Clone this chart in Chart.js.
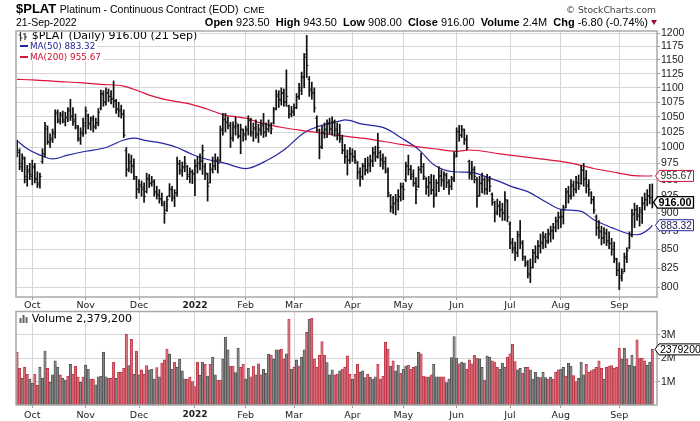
<!DOCTYPE html>
<html>
<head>
<meta charset="utf-8">
<script src="https://cdn.jsdelivr.net/npm/chart.js@4.4.1/dist/chart.umd.min.js"></script>
<style>
  html, body { margin:0; padding:0; background:#fff; }
  body { width:700px; height:421px; overflow:hidden; position:relative; font-family:"Liberation Sans", Arial, sans-serif; color:#000; }
  .t { position:absolute; white-space:nowrap; }
  #pwrap { position:absolute; left:0; top:0; width:700px; height:310px; }
  #vwrap { position:absolute; left:0; top:300px; width:700px; height:121px; }
  .lgw { position:absolute; overflow:hidden; }
  .lgl { position:absolute; left:0; background:#fff; font-family:"DejaVu Sans", sans-serif; white-space:nowrap; }
</style>
</head>
<body>
<div id="pwrap"><canvas id="pc"></canvas></div>
<div id="vwrap"><canvas id="vc"></canvas></div>

<div class="t" id="title" style="left:16px;top:2.3px;font-size:13px;line-height:13px;"></div>
<div class="t" id="dateRow" style="left:16px;top:17.1px;font-size:10.5px;line-height:10.5px;"></div>
<div class="t" id="stats" style="right:43px;top:16.7px;font-size:11px;line-height:11px;"></div>
<div class="t" id="copy" style="right:44px;top:4.5px;font-family:'DejaVu Sans',sans-serif;font-size:9.2px;line-height:9.2px;color:#444"></div>

<div class="lgw" style="left:17px;top:31.8px;width:190px;height:31px;">
  <div class="lgl" id="lg1" style="top:-2.1px;padding-left:14.7px;padding-right:2px;font-size:11px;line-height:11px;">
    <svg style="position:absolute;left:1px;top:2.3px" width="10" height="9" viewBox="0 0 10 9">
      <path d="M2.5 0 V9 M0.5 3 H2.5 M2.5 6 H4.5 M7 1 V8 M5 2 H7 M7 5 H9" stroke="#333" stroke-width="1.2" fill="none"/>
    </svg>
    <span id="lg1t"></span>
  </div>
  <div class="lgl" id="lg2" style="top:10.05px;padding-left:13px;padding-right:2px;font-size:8.8px;line-height:8.8px;color:#1c1c8c;">
    <span style="position:absolute;left:3px;top:3px;width:8px;height:2px;background:#2626a0"></span><span id="lg2t"></span>
  </div>
  <div class="lgl" id="lg3" style="top:20.75px;padding-left:13px;padding-right:2px;font-size:8.8px;line-height:8.8px;color:#cc1133;">
    <span style="position:absolute;left:3px;top:3px;width:8px;height:2px;background:#dc143c"></span><span id="lg3t"></span>
  </div>
</div>

<div class="lgw" style="left:17px;top:312.4px;width:130px;height:11px;">
  <div class="lgl" style="top:0.3px;padding-left:14.7px;padding-right:2px;font-size:11px;line-height:11px;">
    <svg style="position:absolute;left:2px;top:1px" width="10" height="9" viewBox="0 0 10 9">
      <rect x="0.5" y="4" width="2" height="5" fill="#666"/><rect x="3.5" y="1" width="2" height="8" fill="#666"/><rect x="6.5" y="3" width="2" height="6" fill="#666"/>
    </svg>
    <span id="vlgt"></span>
  </div>
</div>

<script>
// ---------------- DATA ----------------
const symbol = "$PLAT";
const seriesName = "Platinum - Continuous Contract (EOD)";
const exchange = "CME";
const lastDate = "21-Sep-2022";
const lastDateShort = "21 Sep";

const monthIdx = [6,27,48,70,90,109,132,152,173,194,214,237];
const monthLabels = ["Oct","Nov","Dec","2022","Feb","Mar","Apr","May","Jun","Jul","Aug","Sep"];
const priceTicks = [800,825,850,875,900,925,950,975,1000,1025,1050,1075,1100,1125,1150,1175,1200];
const volTicks = [1,2,3]; // millions

const opens = [
 1005,992,970,982,950,965,955,968,952,942, 978,990,1030,1008,1012,1022,1055,1042,1055,1042,
 1048,1062,1052,1045,1032,1012,1022,1035,1052,1038, 1048,1033,1040,1065,1088,1075,1092,1085,1082,1076,
 1064,1062,1055,995,966,978,972,952,936,942, 938,932,950,944,946,932,926,922,912,905,
 926,936,922,930,974,962,968,970,955,962, 958,972,975,978,970,958,945,966,972,980,
 980,1030,1046,1042,1036,1015,1032,1035,1018,1028, 1020,1028,1044,1022,1032,1020,1028,1038,1024,1030,
 1036,1040,1064,1088,1078,1092,1076,1068,1054,1058, 1066,1084,1095,1118,1160,1115,1098,1092,1048,1028,
 1002,1024,1028,1040,1030,1042,1030,1022,1014,996, 986,980,990,986,976,962,954,972,964,972,
 978,992,986,992,982,978,962,926,908,914, 918,924,938,950,972,966,958,944,940,966,
 970,952,938,946,934,928,945,956,948,956, 946,940,952,988,1026,1020,1028,1014,978,958,
 966,950,926,944,950,936,948,928,916,902, 912,906,900,918,885,860,852,846,870,858,
 838,830,816,826,846,840,854,858,866,862, 870,876,880,888,894,896,908,932,926,940,
 936,946,944,964,952,942,930,920,895,880, 874,866,872,862,858,850,836,822,812,820,
 838,852,870,898,906,896,902,914,920,926, 923.5];
const highs = [
 1012,998,990,985,972,975,980,975,962,960, 998,1041,1035,1022,1030,1062,1062,1058,1060,1058,
 1066,1080,1066,1055,1036,1032,1048,1067,1055,1050, 1052,1048,1064,1096,1095,1100,1098,1095,1112,1080,
 1075,1070,1062,1000,990,988,982,955,950,948, 945,960,958,955,950,940,935,930,918,925,
 944,940,935,985,980,977,986,972,968,965, 981,985,990,1004,975,960,975,985,990,985,
 1035,1056,1056,1050,1041,1042,1050,1038,1038,1030, 1035,1052,1048,1040,1045,1038,1045,1056,1040,1045,
 1040,1066,1096,1095,1100,1098,1132,1070,1068,1072, 1090,1108,1128,1162,1196,1120,1110,1100,1052,1030,
 1035,1040,1045,1048,1050,1045,1040,1038,1020,1005, 996,1000,998,995,978,968,975,983,985,988,
 1000,1002,1023,995,990,985,968,928,925,928, 935,945,945,977,988,972,965,953,970,991,
 975,953,955,958,957,950,970,965,962,960, 950,955,993,1032,1036,1036,1030,1020,980,978,
 970,953,955,960,953,958,955,930,918,921, 918,915,932,920,888,865,860,875,890,862,
 841,835,837,850,855,862,871,874,872,878, 882,886,895,902,905,912,937,940,950,948,
 955,957,972,975,964,950,932,925,898,890, 882,880,878,874,865,860,838,832,824,845,
 852,874,906,915,912,909,924,930,935,943, 943.5];
const lows = [
 985,965,962,945,940,950,942,945,938,937, 975,985,1005,1000,1008,1015,1040,1038,1040,1035,
 1042,1044,1036,1030,1010,1005,1018,1022,1030,1028, 1025,1030,1035,1062,1068,1070,1076,1072,1066,1056,
 1050,1048,1016,955,962,960,950,922,930,925, 916,930,938,940,925,921,915,911,886,903,
 924,918,910,925,958,955,962,950,945,944, 926,960,965,958,950,918,945,960,965,960,
 978,1020,1025,1030,1000,1010,1020,1015,990,1010, 1012,1020,1018,1010,1015,1008,1020,1016,1018,1025,
 1022,1038,1062,1066,1070,1068,1068,1048,1050,1052, 1064,1080,1088,1100,1118,1085,1080,1058,1025,982,
 998,1015,1016,1022,1020,1018,1012,1008,990,975, 957,975,978,975,951,940,950,957,960,962,
 970,978,983,970,966,960,924,902,900,898, 905,918,920,947,957,950,940,914,938,960,
 950,928,925,928,909,925,932,940,935,938, 928,935,947,985,1010,1016,1005,996,951,950,
 945,909,925,930,928,928,932,912,888,898, 895,890,890,888,851,845,835,840,851,835,
 827,812,806,825,832,837,845,851,852,858, 860,864,874,878,880,885,908,915,921,925,
 930,935,943,940,930,925,914,900,869,865, 856,858,855,851,842,832,815,797,808,820,
 832,851,867,880,890,882,886,905,911,914, 908];
const closes = [
 995,975,985,955,962,958,970,950,945,955, 990,1035,1010,1015,1025,1058,1045,1052,1045,1050,
 1060,1050,1042,1035,1015,1025,1040,1060,1040,1045, 1035,1040,1058,1090,1075,1090,1085,1080,1078,1062,
 1060,1055,1020,965,975,970,955,935,940,935, 925,952,945,948,930,928,920,915,900,920,
 935,925,930,975,965,970,975,958,962,960, 970,975,980,995,960,940,965,970,980,975,
 1028,1045,1040,1035,1015,1035,1040,1020,1030,1022, 1030,1045,1025,1030,1022,1030,1035,1025,1030,1035,
 1030,1062,1085,1080,1090,1075,1085,1055,1060,1065, 1085,1100,1120,1155,1140,1095,1090,1065,1035,1000,
 1025,1030,1038,1030,1040,1028,1020,1015,995,985, 980,990,985,980,960,955,970,965,975,980,
 990,985,1000,980,975,965,930,910,915,920, 925,940,935,970,965,955,945,935,965,970,
 955,940,945,935,925,945,955,950,958,945, 940,950,985,1025,1020,1030,1012,1000,960,965,
 955,925,945,950,935,950,940,920,900,910, 905,902,920,895,858,850,845,868,860,840,
 832,818,825,845,840,855,860,868,860,872, 875,880,890,895,895,905,930,925,942,935,
 945,940,965,950,940,935,920,905,880,875, 865,872,860,858,850,838,822,815,818,840,
 848,870,900,905,898,905,915,920,925,922.8, 916];

// volume in millions
const volumes = [
 2.26,1.57,1.14,1.61,1.31,1.11,0.93,1.31,0.84,1.61, 1.14,2.31,1.57,0.97,1.29,1.89,1.61,1.29,1.14,1.07,
 1.24,1.74,1.31,1.67,1.19,0.97,1.19,1.71,1.53,1.11, 1.11,0.86,1.21,1.24,2.26,1.21,1.14,1.14,1.83,1.14,
 1.40,1.40,1.57,3.03,1.69,2.81,1.31,2.31,1.29,1.50, 1.31,1.69,1.50,1.53,1.11,1.60,1.21,1.79,1.93,2.39,
 2.19,1.53,1.84,1.61,1.96,1.46,1.11,1.10,1.19,1.00, 0.79,1.84,1.27,1.84,1.74,1.24,1.74,2.04,1.29,1.07,
 1.07,1.97,2.90,2.36,1.67,1.67,1.39,2.43,1.61,1.74, 1.11,1.57,1.21,1.67,1.29,1.76,1.29,1.53,1.36,2.17,
 2.14,1.97,2.36,2.36,2.39,1.97,2.19,3.67,1.53,1.61, 1.93,1.67,2.04,2.36,3.11,3.67,3.71,1.96,1.61,2.13,
 2.71,2.13,1.81,1.29,1.50,1.29,1.31,1.46,1.53,1.61, 2.10,1.31,1.10,1.31,1.74,1.40,1.46,1.17,1.31,1.19,
 1.11,1.21,1.74,1.11,1.24,2.69,2.39,1.67,1.89,1.46, 1.70,1.36,1.53,1.67,1.70,1.53,1.61,1.67,2.26,2.19,
 1.24,1.19,1.21,1.29,1.74,1.21,1.21,1.21,1.21,0.96, 1.11,2.03,2.93,2.00,1.76,1.84,1.79,1.53,1.93,1.76,
 2.13,2.00,1.97,1.61,1.07,2.10,2.04,1.89,1.84,1.61, 1.53,1.79,1.61,2.04,2.19,2.60,1.86,1.50,1.57,1.36,
 1.61,1.61,1.50,1.11,1.40,1.19,1.17,1.40,1.17,1.11, 1.19,1.10,1.41,1.50,1.53,1.61,1.24,1.79,1.67,1.26,
 1.00,1.14,1.83,1.29,1.74,1.40,1.47,1.53,1.61,1.89, 1.57,1.10,1.61,1.67,1.69,1.57,1.61,2.43,1.97,2.43,
 1.97,1.70,2.13,1.67,2.79,2.00,2.00,1.89,1.70,1.83, 2.3792];
// R = down day (red), G = up day (gray)
const volColor = ("RRGRRGGRRG"+"GGRGGGGRGG"+"RGRRRGRGGR"+"RGGGGGRRRG"+"RRRRGRGRGR"+
                  "RRGGGRGRRR"+"GGRGGGGRRR"+"RRGGRGRGGR"+"RGGGRRGGRR"+"GGRRGRRGGG"+
                  "RGGGRRGRGR"+"GRGGRGRRRR"+"RRGGGRRGRR"+"RRGRRGGGRG"+"GGRRRRRGRG"+
                  "GRGGRRRGGR"+"RRGRGGGRRG"+"GGGGRGGRRR"+"RRGGRGGRRR"+"GGGRRRRGGR"+
                  "GRGGGGRGGR"+"GRRRGGRGGR"+"RGGGRRRRRR"+"RGRRRRRRGG"+"RGGGRRRRGG"+"R").split("");

const ma50Idx = [0,4,9,14,20,27,35,42,46,51,57,63,69,75,82,90,99,105,113,120,127,129,136,145,151,158,164,172,179,184,190,195,201,208,214,222,227,234,241,244,249,250];
const ma50Val = [1011,998,988,982,988,994,1000,1012,1015,1011,1007,1000,989,981,975,967,981,996,1024,1036,1043,1045,1038,1031,1016,997,973,962,961,955,947,939,932,917,906,903,891,880,871,870,879,883.32];
const ma200Idx = [0,6,17,25,33,42,48,53,59,67,75,82,91,95,105,115,127,138,151,164,173,178,190,202,214,222,227,234,241,249,250];
const ma200Val = [1115,1114,1111,1109,1106,1103,1094,1086,1079,1073,1063,1053,1047,1041,1032,1026,1019,1014,1005,998,994,996,990,984,978,972,967,962,957,955.5,955.67];

// --------------- checks ---------------
const N = closes.length;
[opens,highs,lows,volumes,volColor].forEach((a,k)=>{ if(a.length!==N) throw new Error("length mismatch "+k+": "+a.length+" vs "+N); });

// --------------- text ---------------
const last = N-1;
const chg = closes[last]-closes[last-1];
const pct = chg/closes[last-1]*100;
document.getElementById('title').innerHTML =
  '<b>'+symbol+'</b> <span style="font-size:10.5px">'+seriesName+'</span><span style="font-size:9.5px;margin-left:5px">'+exchange+'</span>';
document.getElementById('dateRow').textContent = lastDate;
document.getElementById('stats').innerHTML =
  '<b>Open</b> '+opens[last].toFixed(2)+'&nbsp; <b>High</b> '+highs[last].toFixed(2)+'&nbsp; <b>Low</b> '+lows[last].toFixed(2)+
  '&nbsp; <b>Close</b> '+closes[last].toFixed(2)+'&nbsp; <b>Volume</b> '+volumes[last].toFixed(1)+'M&nbsp; <b>Chg</b> '+
  chg.toFixed(2)+' ('+pct.toFixed(2)+'%)'+
  '<span style="display:inline-block;width:0;height:0;border-left:3.5px solid transparent;border-right:3.5px solid transparent;border-top:5px solid #9b0d2e;margin-left:3px;vertical-align:1px"></span>';
document.getElementById('copy').textContent = '\u00A9 StockCharts.com';
document.getElementById('lg1t').textContent = symbol+' (Daily) '+closes[last].toFixed(2)+' ('+lastDateShort+')';
document.getElementById('lg2t').textContent = 'MA(50) '+ma50Val[ma50Val.length-1].toFixed(2);
document.getElementById('lg3t').textContent = 'MA(200) '+ma200Val[ma200Val.length-1].toFixed(2);
document.getElementById('vlgt').textContent = 'Volume '+Math.round(volumes[last]*1e6).toLocaleString('en-US');

// --------------- chart helpers ---------------
const X_MIN = -0.41, X_MAX = 251.85;
const GRID = '#d6d6d6';

const panelBorder = {
  id:'panelBorder',
  afterDatasetsDraw(chart){
    const {ctx, chartArea:a} = chart;
    ctx.save(); ctx.strokeStyle='#a9a9a9'; ctx.lineWidth=1.5;
    ctx.strokeRect(a.left, a.top, a.right-a.left, a.bottom-a.top);
    ctx.restore();
  }
};
function drawTag(ctx, tipX, y, w, h, text, stroke, color, font, lw){
  ctx.save();
  ctx.beginPath();
  ctx.moveTo(tipX, y);
  ctx.lineTo(tipX+4, y-h/2);
  ctx.lineTo(tipX+w, y-h/2);
  ctx.lineTo(tipX+w, y+h/2);
  ctx.lineTo(tipX+4, y+h/2);
  ctx.closePath();
  ctx.fillStyle='#fff'; ctx.fill();
  ctx.lineWidth=lw||1; ctx.strokeStyle=stroke; ctx.stroke();
  ctx.fillStyle=color; ctx.font=font; ctx.textBaseline='middle'; ctx.textAlign='left';
  ctx.fillText(text, tipX+5, y+0.5);
  ctx.restore();
}
const priceTags = {
  id:'priceTags',
  afterDraw(chart){
    const y = chart.scales.y, ctx = chart.ctx, a = chart.chartArea;
    const m200 = ma200Val[ma200Val.length-1], m50 = ma50Val[ma50Val.length-1], c = closes[last];
    drawTag(ctx, a.right-1.5, y.getPixelForValue(m200), 38, 11, m200.toFixed(2), '#d0103a', '#333', '10.3px "Liberation Sans", Arial');
    drawTag(ctx, a.right-3.5, y.getPixelForValue(c), 40, 11.5, c.toFixed(2), '#000', '#000', 'bold 10.8px "Liberation Sans", Arial', 1.3);
    drawTag(ctx, a.right-1.5, y.getPixelForValue(m50), 38, 11, m50.toFixed(2), '#2626a0', '#1a1a50', '10.3px "Liberation Sans", Arial');
  }
};
const volTag = {
  id:'volTag',
  afterDraw(chart){
    const y = chart.scales.y, ctx = chart.ctx, a = chart.chartArea;
    const v = volumes[last];
    drawTag(ctx, a.right-2, y.getPixelForValue(v), 46, 11, String(Math.round(v*1e6)), '#000', '#000', '10.5px "Liberation Sans", Arial');
  }
};
function xScale(h, pad){
  return {
    type:'linear', min:X_MIN, max:X_MAX, offset:false, position:'bottom',
    afterBuildTicks: s => { s.ticks = monthIdx.map(v => ({value:v})); },
    afterFit: s => { s.height = h; },
    grid:{ color:GRID, offset:false, tickLength:3, tickColor:'#999' },
    border:{ display:false },
    ticks:{ autoSkip:false, maxRotation:0, padding:pad, color:'#222',
      callback: v => { const k = monthIdx.indexOf(v); return k >= 0 ? monthLabels[k] : ''; },
      font: c => ({ family:"'DejaVu Sans', sans-serif", size: (c.tick && c.tick.value===70) ? 9 : 9.5, weight: (c.tick && c.tick.value===70) ? 'bold' : 'normal' })
    }
  };
}

// --------------- price chart ---------------
new Chart(document.getElementById('pc'), {
  type:'bar',
  data:{ datasets:[
    { type:'line', data: ma200Idx.map((x,k)=>({x, y:ma200Val[k]})), borderColor:'#dc143c', borderWidth:1.2,
      pointRadius:0, cubicInterpolationMode:'monotone', order:2 },
    { type:'line', data: ma50Idx.map((x,k)=>({x, y:ma50Val[k]})), borderColor:'#2626a0', borderWidth:1.2,
      pointRadius:0, cubicInterpolationMode:'monotone', order:2 },
    { type:'bar', data: highs.map((h,i)=>({x:i, y:[lows[i], h]})), backgroundColor:'#111', barThickness:1.05, grouped:false, order:0 },
    { type:'scatter', data: opens.map((o,i)=>({x:i-0.4, y:o})), pointStyle:'line', pointRadius:0.9, pointBorderColor:'#222', pointBorderWidth:0.9, order:0 },
    { type:'scatter', data: closes.map((c,i)=>({x:i+0.4, y:c})), pointStyle:'line', pointRadius:0.9, pointBorderColor:'#222', pointBorderWidth:0.9, order:0 }
  ]},
  options:{
    responsive:true, maintainAspectRatio:false, animation:false, events:[],
    layout:{ padding:{ left:16, top:31, right:0, bottom:0 } },
    plugins:{ legend:{display:false}, tooltip:{enabled:false} },
    scales:{
      x: xScale(13, 0),
      y: { type:'logarithmic', position:'right', min:787.7, max:1204.4,
        afterBuildTicks: s => { s.ticks = priceTicks.map(v => ({value:v})); },
        afterFit: s => { s.width = 43; },
        grid:{ color:GRID, tickLength:3, tickColor:'#999' },
        border:{ display:false },
        ticks:{ padding:1, color:'#222', font:{ family:"'Liberation Sans', Arial", size:10.5 }, callback: v => String(v) }
      }
    }
  },
  plugins:[panelBorder, priceTags]
});

// --------------- volume chart ---------------
new Chart(document.getElementById('vc'), {
  type:'bar',
  data:{ datasets:[{
    data: volumes.map((v,i)=>({x:i, y:v})),
    backgroundColor: volColor.map(d => d==='R' ? '#d66a76' : '#858585'),
    borderColor: volColor.map(d => d==='R' ? '#b8283a' : '#444444'),
    borderWidth:0.7, barThickness:2.4, grouped:false
  }]},
  options:{
    responsive:true, maintainAspectRatio:false, animation:false, events:[],
    layout:{ padding:{ left:16, top:11.5, right:0, bottom:0 } },
    plugins:{ legend:{display:false}, tooltip:{enabled:false} },
    scales:{
      x: xScale(16, 1.5),
      y: { type:'linear', position:'right', min:0, max:4,
        afterBuildTicks: s => { s.ticks = volTicks.map(v => ({value:v})); },
        afterFit: s => { s.width = 43; },
        grid:{ color:GRID, tickLength:3, tickColor:'#999' },
        border:{ display:false },
        ticks:{ padding:1, color:'#222', font:{ family:"'Liberation Sans', Arial", size:10.5 }, callback: v => v+'M' }
      }
    }
  },
  plugins:[panelBorder, volTag]
});
</script>
</body>
</html>
